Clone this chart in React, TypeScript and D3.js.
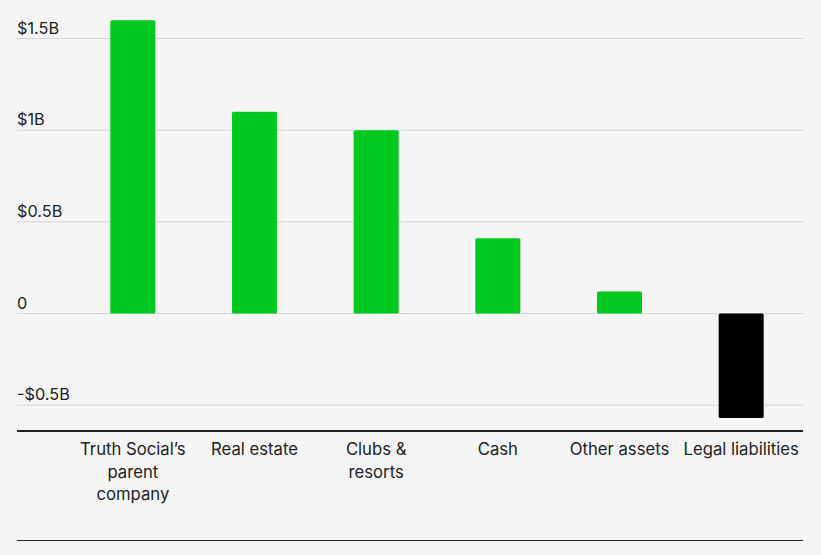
import React, { useEffect } from 'react'
import * as d3 from 'd3'

// Values in billions of dollars
const categories = ['Truth Social’s parent company', 'Real estate', 'Clubs & resorts', 'Cash', 'Other assets', 'Legal liabilities']
const labelLines = [['Truth Social’s', 'parent', 'company'], ['Real estate'], ['Clubs &', 'resorts'], ['Cash'], ['Other assets'], ['Legal liabilities']]
const values = [1.6, 1.1, 1.0, 0.41, 0.12, -0.57]
const yTicks = [-0.5, 0, 0.5, 1, 1.5]
const yTickLabels = ['-$0.5B', '0', '$0.5B', '$1B', '$1.5B']

const WIDTH = 821
const HEIGHT = 555
const FONT = 'Inter, "Noto Sans", sans-serif'

const App = () => {
    useEffect(() => {
        document.body.style.margin = '0'
    }, [])

    const x = d3.scaleBand<string>()
        .domain(categories)
        .range([72, 802])
        .paddingInner(0.63)
        .paddingOuter(0.315)

    const y = d3.scaleLinear().domain([-0.5, 1.5]).range([405.2, 38.5])

    return (
        <svg width={WIDTH} height={HEIGHT} style={{ display: 'block', background: '#f5f5f5' }}>
            <rect width={WIDTH} height={HEIGHT} fill='#f5f5f5' />
            {/* gridlines + y labels */}
            {yTicks.map((t, i) => (
                <g key={t}>
                    <line x1={17} x2={803} y1={y(t)} y2={y(t)} stroke='#d4d4d4' strokeWidth={1} />
                    <text x={17} y={y(t) - 5} fontFamily={FONT} fontSize={16.3} fill='#222'>
                        {yTickLabels[i]}
                    </text>
                </g>
            ))}
            {/* bars */}
            {categories.map((c, i) => {
                const v = values[i]
                return (
                    <rect
                        key={c}
                        x={x(c)}
                        width={x.bandwidth()}
                        y={Math.min(y(v), y(0))}
                        height={Math.abs(y(v) - y(0))}
                        rx={1.5}
                        fill={v >= 0 ? '#00c91f' : '#000'}
                    />
                )
            })}
            {/* baseline axis */}
            <line x1={17} x2={803} y1={431} y2={431} stroke='#222' strokeWidth={2} />
            {/* category labels */}
            {categories.map((c, i) => (
                <text
                    key={c}
                    x={(x(c) as number) + x.bandwidth() / 2}
                    y={455}
                    textAnchor='middle'
                    fontFamily={FONT}
                    fontSize={16.7}
                    fill='#222'
                >
                    {labelLines[i].map((line, j) => (
                        <tspan key={j} x={(x(c) as number) + x.bandwidth() / 2} dy={j === 0 ? 0 : 22.5}>{line}</tspan>
                    ))}
                </text>
            ))}
            <line x1={17} x2={803} y1={540.5} y2={540.5} stroke='#222' strokeWidth={1} />
        </svg>
    )
}

export default App
